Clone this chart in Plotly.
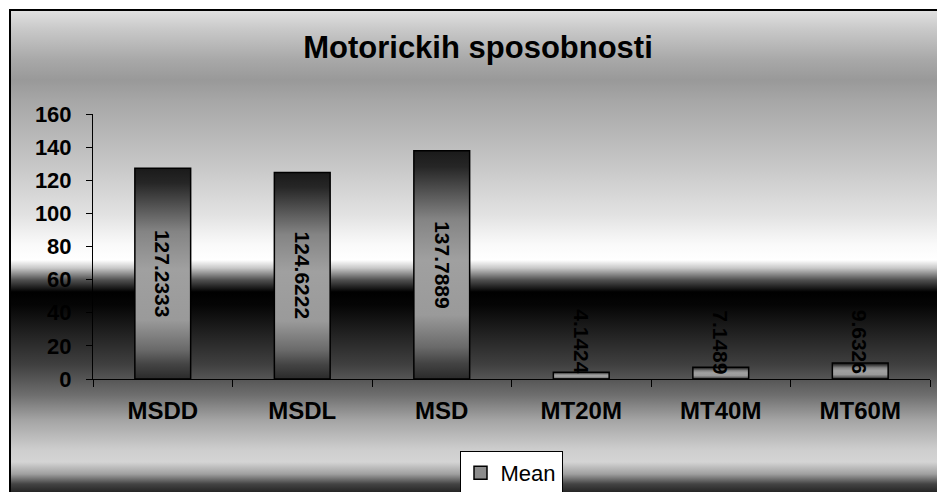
import base64
import plotly.graph_objects as go

# ---- data ----
categories = ["MSDD", "MSDL", "MSD", "MT20M", "MT40M", "MT60M"]
mean_values = [127.2333, 124.6222, 137.7889, 4.1424, 7.1489, 9.6326]
series_name = "Mean"
title_text = "Motorickih sposobnosti"
y_ticks = [0, 20, 40, 60, 80, 100, 120, 140, 160]

W, H = 937, 492
ML, MR, MT, MB = 93, 7, 114, 492 - 379
PW, PH = W - ML - MR, H - MT - MB


def px_to_paper_x(px):
    return (px - ML) / PW


def px_to_paper_y(py):
    return (H - MB - py) / PH


def cx(px):
    return px / W


def cy(py):
    return 1 - py / H


def svg_uri(svg):
    return "data:image/svg+xml;base64," + base64.b64encode(svg.encode()).decode()


# background gradient of the chart frame (pixel y -> colour)
frame_top, frame_bottom = 10, 495
bg_stops = [(11, "#e0e0e0"), (30, "#c8c8c8"), (60, "#a8a8a8"), (80, "#999999"),
            (100, "#a6a6a6"), (160, "#c4c4c4"), (215, "#e2e2e2"), (245, "#fafafa"),
            (260, "#ffffff"), (268, "#c8c8c8"), (280, "#505050"), (292, "#000000"),
            (305, "#050505"), (330, "#1e1e1e"), (365, "#404040"), (395, "#6e6e6e"),
            (420, "#a4a4a4"), (450, "#cecece"), (462, "#d4d4d4"), (474, "#a0a0a0"),
            (484, "#444444"), (495, "#1a1a1a")]
span = frame_bottom - frame_top
stops_svg = "".join(
    f'<stop offset="{(p - frame_top) / span:.4f}" stop-color="{c}"/>' for p, c in bg_stops)
bg_svg = ('<svg xmlns="http://www.w3.org/2000/svg" width="100" height="100" '
          'viewBox="0 0 100 100" preserveAspectRatio="none"><defs>'
          '<linearGradient id="g" x1="0" y1="0" x2="0" y2="1">' + stops_svg +
          '</linearGradient></defs><rect width="100" height="100" fill="url(#g)"/></svg>')

bar_stops = [(0.0, "#1a1a1a"), (0.07, "#262626"), (0.3, "#848484"), (0.48, "#a0a0a0"),
             (0.72, "#9a9a9a"), (0.86, "#6a6a6a"), (0.93, "#444444"), (1.0, "#2a2a2a")]
bar_svg = ('<svg xmlns="http://www.w3.org/2000/svg" width="100" height="100" '
           'viewBox="0 0 100 100" preserveAspectRatio="none"><defs>'
           '<linearGradient id="b" x1="0" y1="0" x2="0" y2="1">' +
           "".join(f'<stop offset="{o}" stop-color="{c}"/>' for o, c in bar_stops) +
           '</linearGradient></defs><rect width="100" height="100" fill="url(#b)"/></svg>')

BAR_FRAC = 0.4

images = [dict(source=svg_uri(bg_svg), xref="paper", yref="paper",
               x=px_to_paper_x(10), y=px_to_paper_y(frame_top),
               sizex=(945 - 10) / PW, sizey=span / PH,
               xanchor="left", yanchor="top", sizing="stretch", layer="below")]
for i, v in enumerate(mean_values):
    images.append(dict(source=svg_uri(bar_svg), xref="x", yref="y",
                       x=i - BAR_FRAC / 2, y=v, sizex=BAR_FRAC, sizey=v,
                       xanchor="left", yanchor="top", sizing="stretch", layer="below"))

fig = go.Figure()
fig.add_trace(go.Bar(
    x=categories, y=mean_values, name=series_name, showlegend=False,
    marker=dict(color="rgba(0,0,0,0)", line=dict(color="black", width=1.5)),
    cliponaxis=False, hoverinfo="x+y"))
fig.add_trace(go.Scatter(
    x=[None], y=[None], mode="markers", name=series_name,
    marker=dict(symbol="square", size=13, color="#8c8c8c",
                line=dict(color="black", width=1.5))))

annotations = []
for c, v in zip(categories, mean_values):
    big = v > 60
    annotations.append(dict(
        x=c, y=v / 2 if big else 0, xref="x", yref="y", text=f"{v:.4f}",
        textangle=90, showarrow=False, yanchor="middle" if big else "bottom",
        yshift=0 if big else 3,
        font=dict(family="Liberation Sans, Arial", size=21, color="black", weight="bold")))

fig.update_layout(
    width=W, height=H,
    margin=dict(l=ML, r=MR, t=MT, b=MB, autoexpand=False),
    paper_bgcolor="white", plot_bgcolor="rgba(0,0,0,0)",
    font=dict(family="Liberation Sans, Arial", color="black"),
    title=dict(text=title_text, x=cx(478), xanchor="center", xref="container",
               y=cy(47), yanchor="middle", yref="container",
               font=dict(size=31, weight="bold", color="black")),
    bargap=1 - BAR_FRAC,
    images=images,
    annotations=annotations,
    shapes=[dict(type="rect", xref="paper", yref="paper",
                 x0=px_to_paper_x(10), x1=px_to_paper_x(945),
                 y0=px_to_paper_y(frame_bottom), y1=px_to_paper_y(frame_top),
                 line=dict(color="black", width=2), fillcolor="rgba(0,0,0,0)",
                 layer="above")],
    legend=dict(x=cx(511), xanchor="center", xref="container",
                y=cy(451), yanchor="top", yref="container",
                bgcolor="white", bordercolor="black", borderwidth=1,
                font=dict(size=22, color="black"), orientation="h"),
    xaxis=dict(type="category", showline=True, linecolor="black", linewidth=1,
               ticks="outside", tickson="boundaries", ticklen=7, tickcolor="black",
               showgrid=False, zeroline=False, ticklabelstandoff=10, automargin=False,
               tickfont=dict(size=24, weight="bold", color="black")),
    yaxis=dict(range=[0, 160], tickvals=y_ticks, showline=True, linecolor="black",
               linewidth=1, ticks="outside", ticklen=6, tickcolor="black",
               showgrid=False, zeroline=False, ticklabelstandoff=10, automargin=False,
               tickfont=dict(size=22, weight="bold", color="black")),
)

fig.write_html(
    "out.html",
    config={"displayModeBar": False},
    post_script="document.body.style.margin='0';document.body.style.overflow='hidden';")
